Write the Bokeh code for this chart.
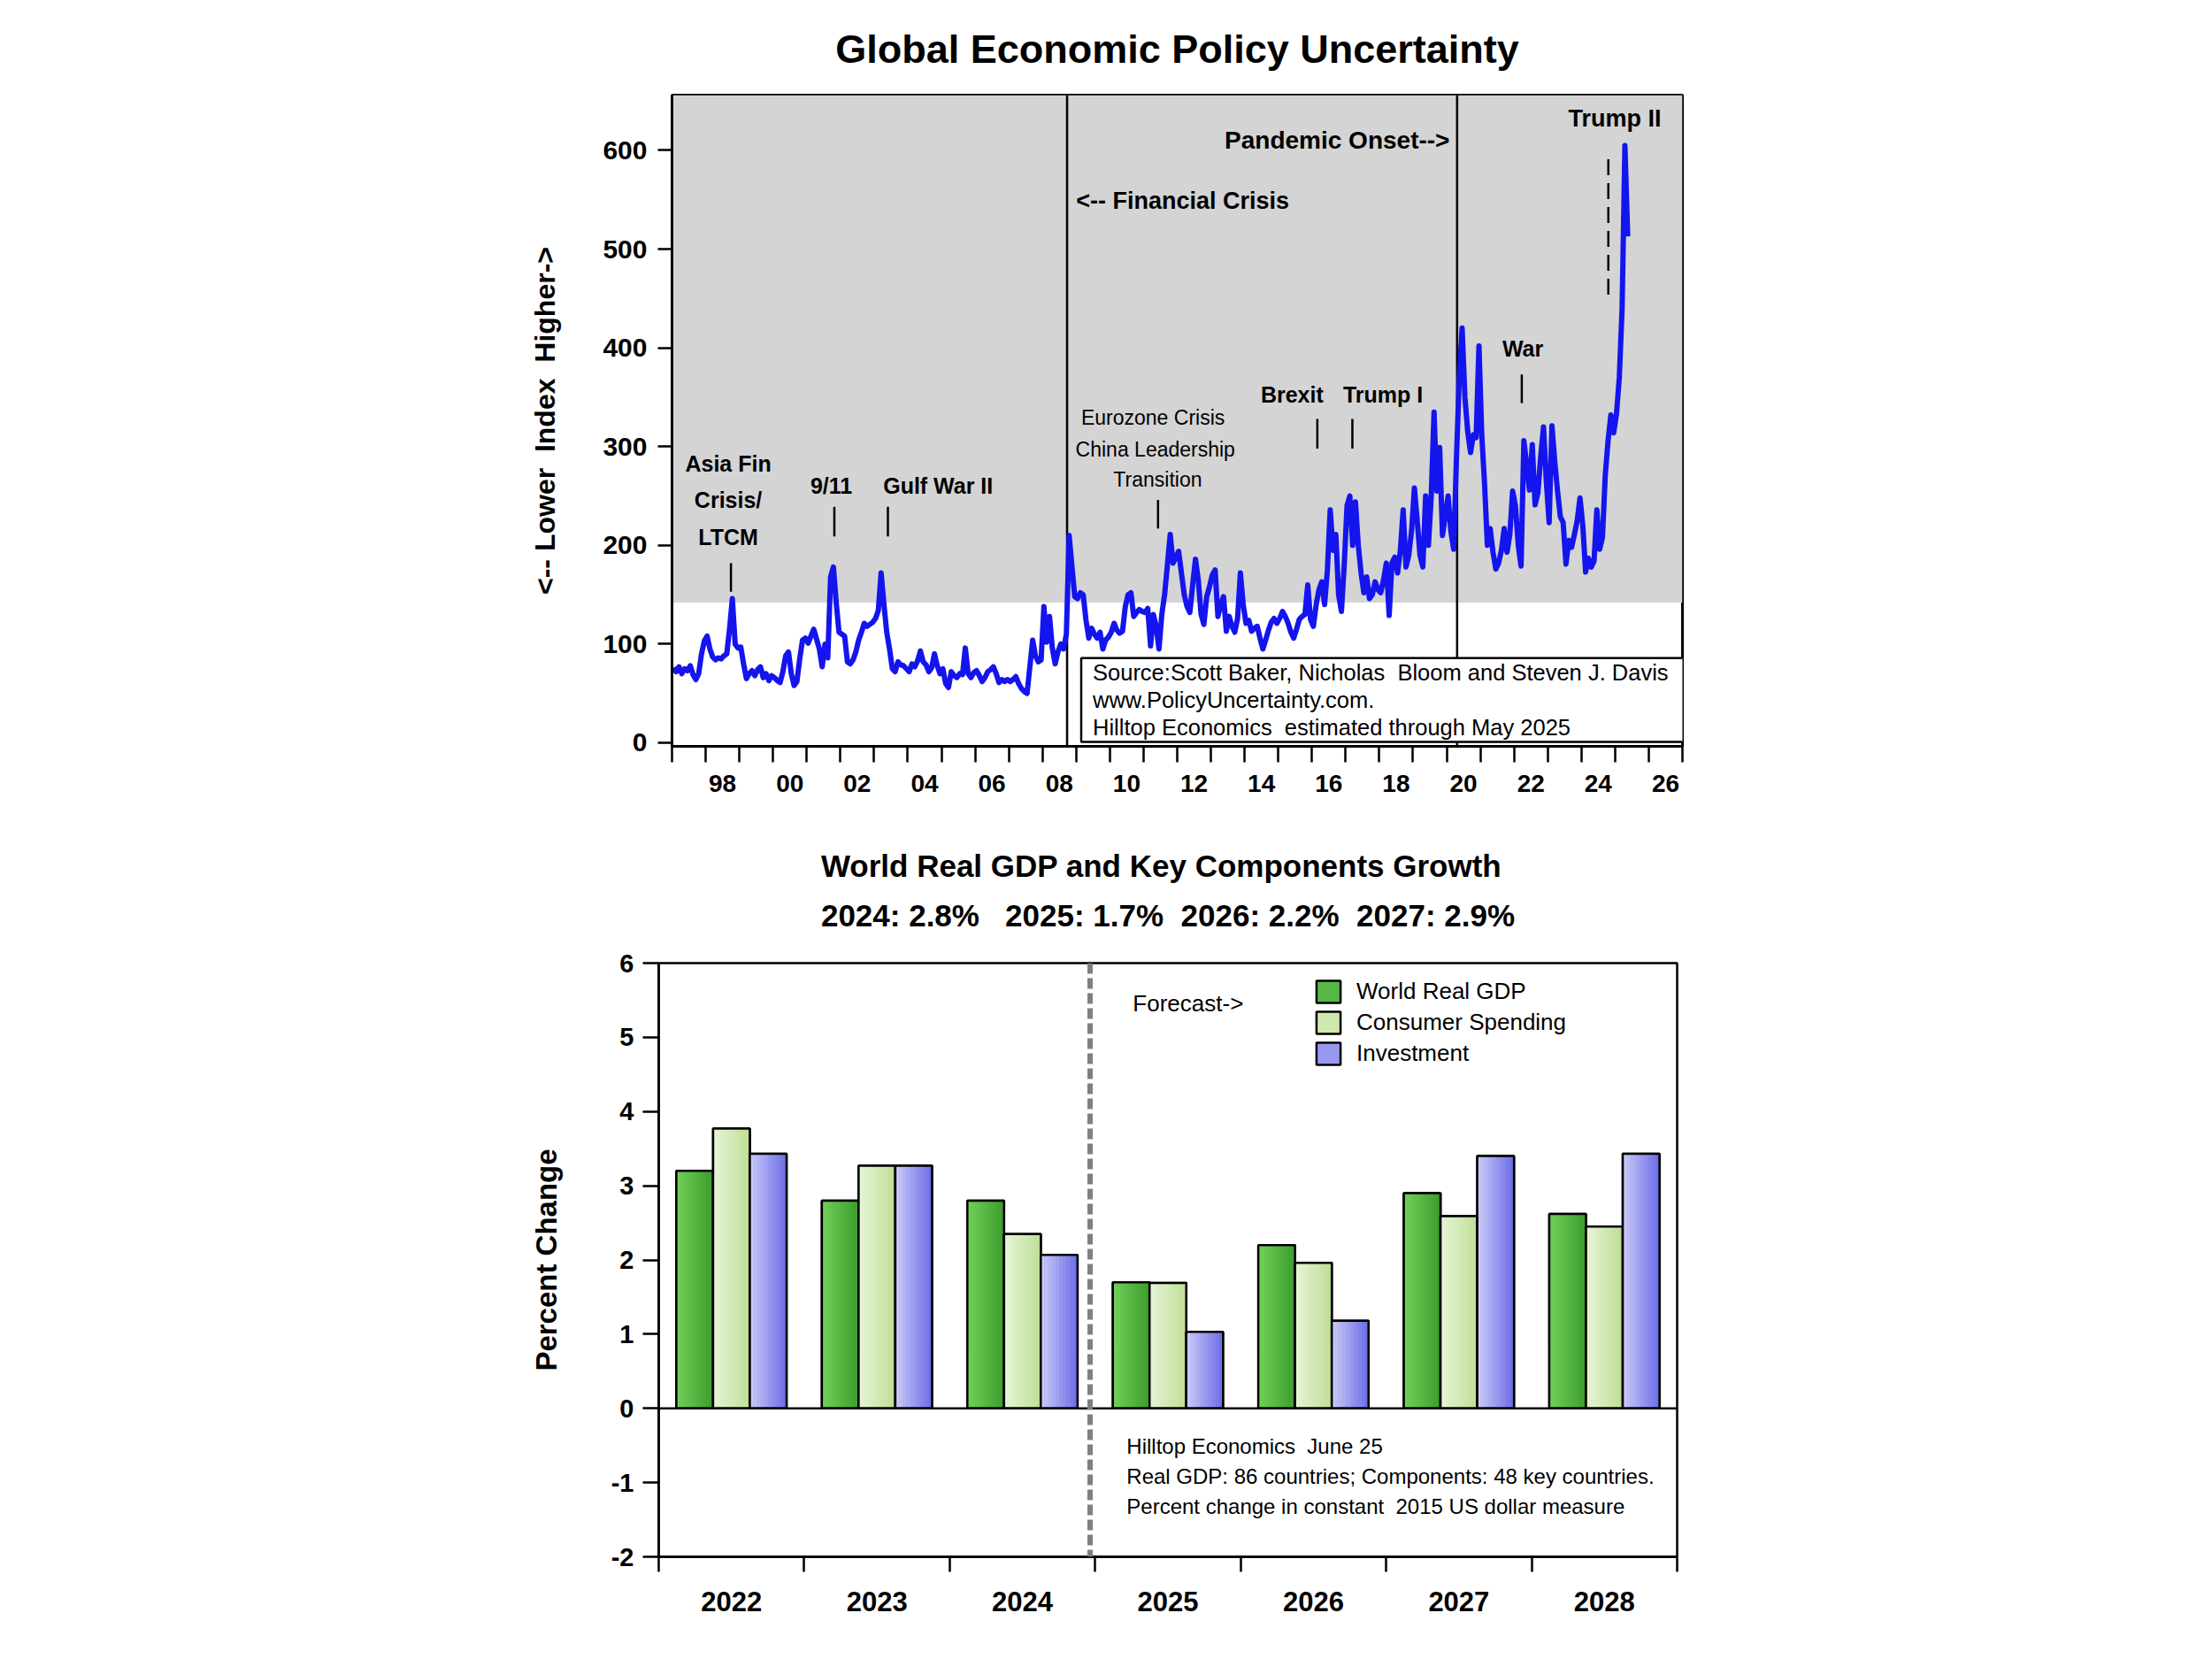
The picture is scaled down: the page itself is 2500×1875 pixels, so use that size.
import numpy as np
from bokeh.plotting import figure
from bokeh.models import (Range1d, FixedTicker, BoxAnnotation, Span, Label,
                          Legend, LegendItem, Title)
from bokeh.layouts import column
from bokeh.embed import file_html
from bokeh.resources import INLINE

FONT = "'Liberation Sans', Arial, Helvetica, sans-serif"
NBSP = "\u00a0"

# ---------------------------------------------------------------------------
# Global Economic Policy Uncertainty index, monthly from Jan 1997 to May 2025
# ---------------------------------------------------------------------------
epu_start_year = 1997
epu_index = [
    76, 72, 77, 70, 75, 73, 78, 69, 64, 70, 90, 103,          # 1997
    108, 95, 87, 84, 86, 85, 88, 90, 115, 146, 100, 96,       # 1998
    97, 80, 65, 70, 73, 68, 74, 77, 66, 70, 63, 68,           # 1999
    66, 63, 61, 72, 88, 92, 70, 58, 62, 85, 104, 106,         # 2000
    101, 108, 115, 105, 95, 77, 100, 86, 168, 178, 142, 112,  # 2001
    110, 108, 82, 80, 84, 92, 104, 112, 121, 118, 120, 122,   # 2002
    126, 134, 172, 140, 112, 95, 75, 72, 82, 79, 78, 75,      # 2003
    72, 80, 77, 83, 93, 82, 79, 72, 76, 90, 78, 70,           # 2004
    75, 60, 56, 72, 68, 66, 70, 69, 96, 70, 66, 71,           # 2005
    73, 68, 62, 66, 72, 74, 77, 70, 61, 64, 62, 64,           # 2006
    62, 64, 67, 60, 55, 52, 50, 77, 104, 88, 82, 84,          # 2007
    138, 102, 128, 96, 80, 92, 100, 95, 110, 210, 178, 148,   # 2008
    146, 152, 150, 124, 106, 116, 110, 106, 112, 95, 104, 107,  # 2009
    112, 121, 114, 111, 113, 138, 150, 152, 128, 132, 135, 133,  # 2010
    132, 136, 98, 130, 118, 95, 130, 150, 180, 211, 182, 188,   # 2011
    194, 172, 150, 138, 132, 160, 186, 165, 130, 120, 148, 158,  # 2012
    170, 175, 128, 140, 148, 113, 128, 118, 112, 126, 172, 140,  # 2013
    121, 124, 113, 116, 118, 106, 95, 104, 114, 122, 126, 121,   # 2014
    126, 133, 128, 121, 112, 106, 115, 125, 128, 130, 160, 125,  # 2015
    118, 140, 155, 163, 140, 175, 236, 195, 211, 150, 133, 180,  # 2016
    240, 250, 200, 244, 200, 172, 152, 168, 146, 150, 163, 155,  # 2017
    152, 165, 182, 129, 182, 188, 172, 195, 236, 178, 190, 215,  # 2018
    258, 225, 190, 178, 250, 200, 250, 335, 255, 299, 210, 230,  # 2019
    250, 214, 196, 290, 370, 420, 350, 315, 294, 312, 309, 402,  # 2020
    312, 262, 200, 217, 193, 176, 182, 195, 217, 193, 211, 255,  # 2021
    240, 200, 179, 306, 282, 256, 302, 241, 253, 290, 320, 265,  # 2022
    223, 321, 285, 255, 229, 223, 181, 205, 198, 211, 225, 248,  # 2023
    220, 173, 187, 178, 184, 236, 196, 208, 271, 306, 332, 314,  # 2024
    333, 370, 440, 605, 513,                                     # 2025
]
epu_label_years = list(range(1998, 2027, 2))
epu_tick_labels = ["98", "00", "02", "04", "06", "08", "10", "12", "14",
                   "16", "18", "20", "22", "24", "26"]
epu_y_ticks = [0, 100, 200, 300, 400, 500, 600]
epu_high_threshold = 142
regime_breaks = [2008.73, 2020.31]

# ---------------------------------------------------------------------------
# World real GDP and key components, percent change
# ---------------------------------------------------------------------------
gdp_years = ["2022", "2023", "2024", "2025", "2026", "2027", "2028"]
world_real_gdp = [3.2, 2.8, 2.8, 1.7, 2.2, 2.9, 2.62]
consumer_spending = [3.77, 3.27, 2.35, 1.69, 1.96, 2.59, 2.45]
investment = [3.43, 3.27, 2.07, 1.03, 1.18, 3.40, 3.43]
gdp_y_ticks = [-2, -1, 0, 1, 2, 3, 4, 5, 6]
headline_years = ["2024", "2025", "2026", "2027"]


def keep_spaces(text):
    # runs of spaces would collapse in SVG text, so pad them with NBSP
    return text.replace("  ", " " + NBSP)


def style_axis_text(axis, size):
    axis.major_label_text_font = FONT
    axis.major_label_text_font_size = size
    axis.major_label_text_font_style = "bold"
    axis.major_label_text_color = "black"


def style_axis_title(axis, text, size, standoff):
    axis.axis_label = keep_spaces(text)
    axis.axis_label_text_font = FONT
    axis.axis_label_text_font_size = size
    axis.axis_label_text_font_style = "bold"
    axis.axis_label_text_color = "black"
    axis.axis_label_standoff = standoff


def add_label(p, x, y, text, size, style="bold", align="center",
              baseline="middle"):
    p.add_layout(Label(x=x, y=y, text=keep_spaces(text), text_font=FONT,
                       text_font_size=size, text_font_style=style,
                       text_color="black", text_align=align,
                       text_baseline=baseline))


def add_heading(p, text, size, standoff, line_height=1.2, offset=0):
    p.add_layout(Title(text=keep_spaces(text), align="center", text_font=FONT,
                       text_font_size=size, text_font_style="bold",
                       text_color="black", standoff=standoff, offset=offset,
                       text_line_height=line_height), "above")


# ============================ upper panel ==================================
top = figure(width=2500, height=910, x_range=Range1d(1997, 2027),
             y_range=Range1d(-3.6, 656), output_backend="svg", title=None,
             toolbar_location=None, min_border_left=759, min_border_right=599,
             min_border_top=107, min_border_bottom=67, frame_align=False)
top.grid.visible = False
top.outline_line_color = "black"
top.outline_line_width = 3
top.background_fill_color = "white"
top.border_fill_color = "white"

add_heading(top, "Global Economic Policy Uncertainty", "45px", 53, offset=8)

xa = top.xaxis[0]
label_pos = [y + 0.5 for y in epu_label_years]
xa.ticker = FixedTicker(ticks=label_pos, minor_ticks=list(range(1997, 2028)))
xa.major_label_overrides = {pos: lab for pos, lab in zip(label_pos, epu_tick_labels)}
xa.major_tick_out = 0
xa.major_tick_in = 0
xa.minor_tick_out = 18
xa.minor_tick_in = 0
xa.minor_tick_line_width = 2.5
xa.minor_tick_line_color = "black"
xa.axis_line_width = 3
xa.major_label_standoff = 14
style_axis_text(xa, "28px")

ya = top.yaxis[0]
ya.ticker = FixedTicker(ticks=epu_y_ticks)
ya.minor_tick_line_color = None
ya.major_tick_out = 16
ya.major_tick_in = 0
ya.major_tick_line_width = 2.5
ya.axis_line_width = 3
ya.major_label_standoff = 12
style_axis_text(ya, "30px")
style_axis_title(ya, "<-- Lower  Index  Higher->", "32px", 44)

# shading for the high-uncertainty zone and the two regime breaks
top.add_layout(BoxAnnotation(bottom=epu_high_threshold, fill_color="#d4d4d4",
                             fill_alpha=1, line_color=None, level="underlay"))
for loc in regime_breaks:
    top.add_layout(Span(location=loc, dimension="height", line_color="black",
                        line_width=2.5, level="underlay"))

months = np.arange(len(epu_index))
epu_x = epu_start_year + (months + 0.5) / 12.0
top.line(epu_x, epu_index, line_color="#1414ee", line_width=6,
         line_join="round")

# event call-outs
add_label(top, 1998.67, 283, "Asia Fin", "25px")
add_label(top, 1998.67, 246, "Crisis/", "25px")
add_label(top, 1998.67, 208, "LTCM", "25px")
add_label(top, 2001.73, 260, "9/11", "25px")
add_label(top, 2004.90, 260, "Gulf War II", "25px")
add_label(top, 2009.00, 549, "<-- Financial Crisis", "27px", align="left")
add_label(top, 2011.28, 329, "Eurozone Crisis", "23px", style="normal")
add_label(top, 2011.35, 297, "China Leadership", "23px", style="normal")
add_label(top, 2011.42, 267, "Transition", "23px", style="normal")
add_label(top, 2015.41, 353, "Brexit", "25px")
add_label(top, 2018.11, 353, "Trump I", "25px")
add_label(top, 2022.26, 399, "War", "25px")
add_label(top, 2020.09, 610, "Pandemic Onset-->", "28px", align="right")
add_label(top, 2024.99, 632, "Trump II", "27px")

marker_x = [1998.75, 2001.82, 2003.41, 2011.43, 2016.16, 2017.20, 2022.23]
marker_lo = [153, 209, 209, 217, 298, 298, 344]
marker_hi = [182, 239, 239, 246, 328, 328, 373]
top.segment(x0=marker_x, y0=marker_lo, x1=marker_x, y1=marker_hi,
            line_color="black", line_width=2.5)
top.segment(x0=[2024.80], y0=[454], x1=[2024.80], y1=[595],
            line_color="black", line_width=2.5, line_dash="18 9")

# source note box (anchored at its top-left corner)
source_lines = ["Source:Scott Baker, Nicholas  Bloom and Steven J. Davis",
                "www.PolicyUncertainty.com.",
                "Hilltop Economics  estimated through May 2025"]
top.add_layout(Label(
    x=2009.15, y=85.8,
    text="\n".join(keep_spaces(s) for s in source_lines),
    text_font=FONT, text_font_size="25.5px", text_color="black",
    text_align="left", text_baseline="top", text_line_height=1.12,
    background_fill_color="white", background_fill_alpha=1,
    border_line_color="black", border_line_width=2.5,
    padding=dict(left=13, right=20, top=2, bottom=2)))

# ============================ lower panel ==================================
bot = figure(width=2500, height=965, x_range=Range1d(0, 7),
             y_range=Range1d(-2, 6), output_backend="svg", title=None,
             toolbar_location=None, min_border_left=744, min_border_right=605,
             min_border_top=178, min_border_bottom=116, frame_align=False)
bot.grid.visible = False
bot.outline_line_color = "black"
bot.outline_line_width = 2.5
bot.background_fill_color = "white"
bot.border_fill_color = "white"

parts = [f"{y}: {world_real_gdp[gdp_years.index(y)]:.1f}%" for y in headline_years]
headline = parts[0] + "   " + "  ".join(parts[1:])
add_heading(bot, "World Real GDP and Key Components Growth\n" + headline,
            "35px", 69, line_height=1.43)

n_groups = len(gdp_years)
centers = np.arange(n_groups) + 0.5
bx = bot.xaxis[0]
bx.ticker = FixedTicker(ticks=list(centers), minor_ticks=list(range(n_groups + 1)))
bx.major_label_overrides = {float(c): y for c, y in zip(centers, gdp_years)}
bx.major_tick_out = 0
bx.major_tick_in = 0
bx.minor_tick_out = 17
bx.minor_tick_in = 0
bx.minor_tick_line_width = 2.5
bx.minor_tick_line_color = "black"
bx.axis_line_width = 2.5
bx.major_label_standoff = 22
style_axis_text(bx, "31px")

by = bot.yaxis[0]
by.ticker = FixedTicker(ticks=gdp_y_ticks)
by.major_label_overrides = {t: str(t) for t in gdp_y_ticks}
by.minor_tick_line_color = None
by.major_tick_out = 18
by.major_tick_in = 0
by.major_tick_line_width = 2.5
by.axis_line_width = 2.5
by.major_label_standoff = 10
style_axis_text(by, "29px")
style_axis_title(by, "Percent Change", "33px", 52)

bot.add_layout(Span(location=0, dimension="width", line_color="black",
                    line_width=2.5))

bar_w = 0.2525
series = [
    ("World Real GDP", world_real_gdp, -bar_w, "#55b943", ("#6fcf56", "#3e9f2f")),
    ("Consumer Spending", consumer_spending, 0.0, "#cfe8ae", ("#e6f4d6", "#c0df98")),
    ("Investment", investment, bar_w, "#9898f0", ("#c8c8f7", "#7070e9")),
]


def mix(c0, c1, t):
    a = [int(c0[i:i + 2], 16) for i in (1, 3, 5)]
    b = [int(c1[i:i + 2], 16) for i in (1, 3, 5)]
    return "#%02x%02x%02x" % tuple(round(a[k] + (b[k] - a[k]) * t) for k in range(3))


legend_items = []
n_strips = 10
for name, vals, off, solid, (c_left, c_right) in series:
    xs = centers + off
    r = bot.vbar(x=xs, top=vals, bottom=0, width=bar_w, fill_color=solid,
                 line_color="black", line_width=2.5)
    legend_items.append(LegendItem(label=name, renderers=[r]))
    sw = bar_w / n_strips
    for k in range(n_strips):
        bot.vbar(x=xs - bar_w / 2 + (k + 0.5) * sw, top=vals, bottom=0,
                 width=sw * 1.08, fill_color=mix(c_left, c_right, k / (n_strips - 1)),
                 line_color=None)
    bot.vbar(x=xs, top=vals, bottom=0, width=bar_w, fill_color=None,
             line_color="black", line_width=2.5)

bot.add_layout(Span(location=2.965, dimension="height", line_color="#808080",
                    line_width=6, line_dash="12 5"))

legend = Legend(items=legend_items, location=(740, 553), orientation="vertical",
                glyph_width=34, glyph_height=31, label_standoff=15, spacing=4,
                padding=0, margin=0, border_line_color=None,
                background_fill_alpha=0, label_text_font=FONT,
                label_text_font_size="26px", label_height=24,
                label_text_color="black")
bot.add_layout(legend)

add_label(bot, 3.259, 5.455, "Forecast->", "26px", style="normal", align="left")
notes = ["Hilltop Economics  June 25",
         "Real GDP: 86 countries; Components: 48 key countries.",
         "Percent change in constant  2015 US dollar measure"]
for txt, yy in zip(notes, [-0.510, -0.918, -1.318]):
    add_label(bot, 3.216, yy, txt, "24px", style="normal", align="left")

page = column(top, bot)
open("out.html", "w").write(file_html(page, INLINE))
